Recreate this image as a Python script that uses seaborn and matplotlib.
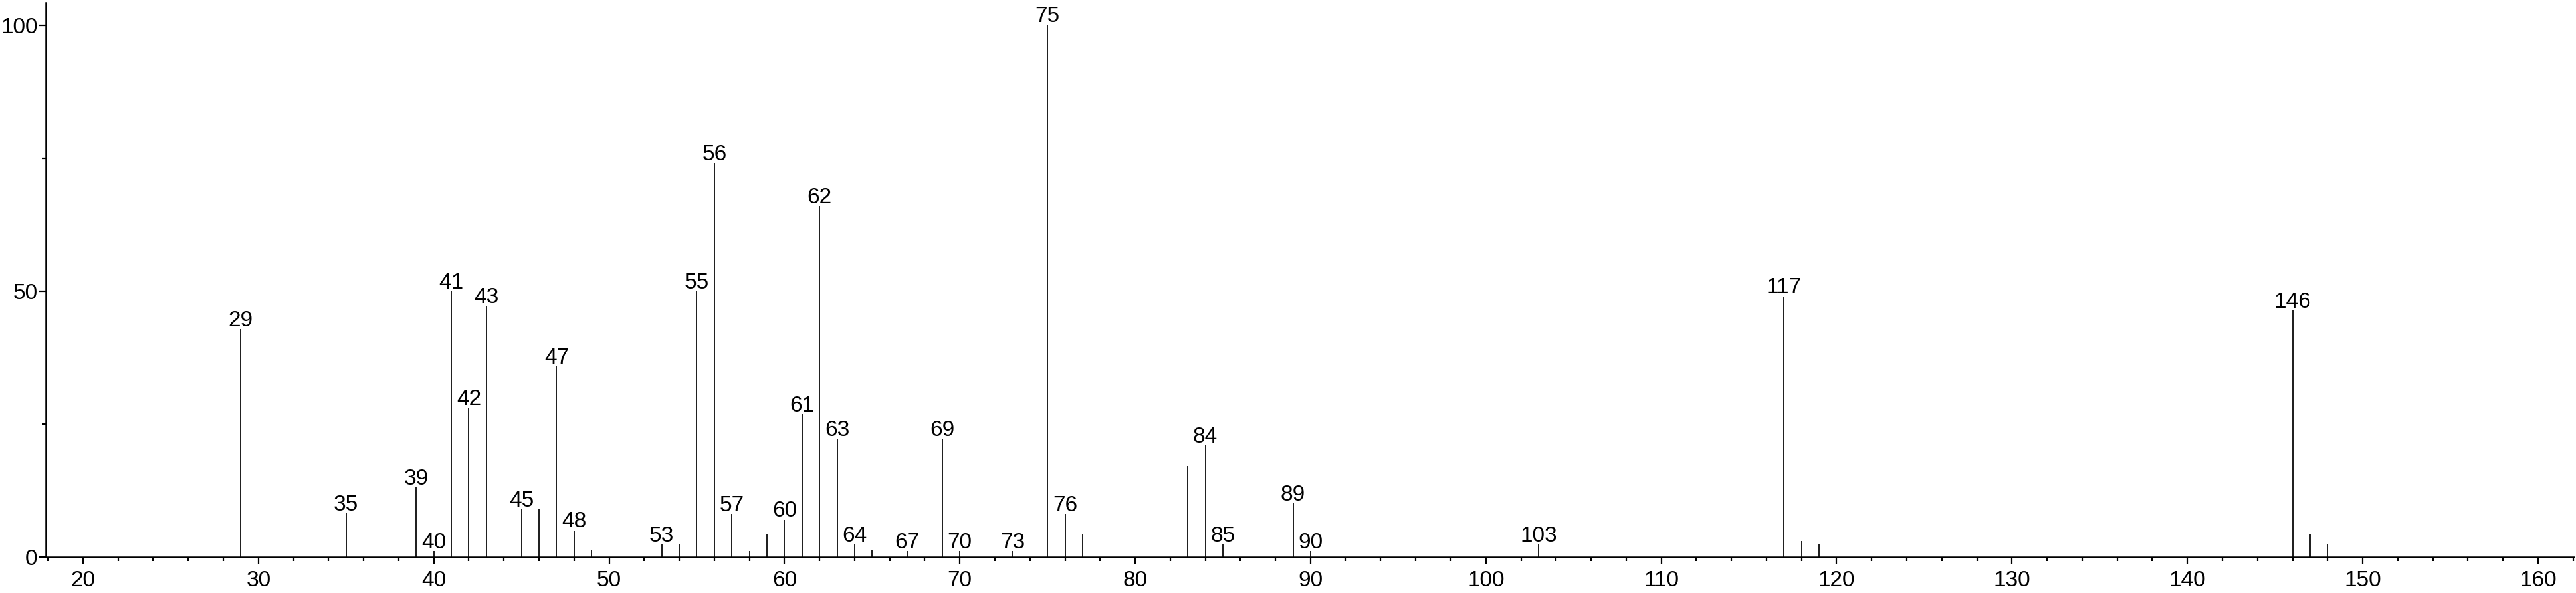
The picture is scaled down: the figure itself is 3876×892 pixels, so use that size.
import matplotlib
matplotlib.use("Agg")
import matplotlib.pyplot as plt
from matplotlib.ticker import MultipleLocator, FixedLocator
import seaborn as sns
import pandas as pd

# m/z values and relative intensities
mz = [29, 35, 39, 40, 41, 42, 43, 45, 46, 47, 48, 49, 53, 54, 55, 56, 57, 58,
      59, 60, 61, 62, 63, 64, 65, 67, 69, 70, 73, 75, 76, 77, 83, 84, 85, 89,
      90, 103, 117, 118, 119, 146, 147, 148]
intensity = [42.8, 8.2, 13.1, 1.1, 49.9, 28.1, 47.2, 8.9, 8.9, 35.8, 5.0, 1.2,
             2.3, 2.3, 49.9, 74.1, 8.1, 1.1, 4.3, 7.0, 26.8, 65.9, 22.2, 2.3,
             1.2, 1.1, 22.2, 1.1, 1.1, 100.0, 8.1, 4.3, 17.1, 20.9, 2.3, 10.1,
             1.1, 2.3, 49.0, 3.0, 2.3, 46.3, 4.3, 2.3]
labeled = [29, 35, 39, 40, 41, 42, 43, 45, 47, 48, 53, 55, 56, 57, 60, 61, 62,
           63, 64, 67, 69, 70, 73, 75, 76, 84, 85, 89, 90, 103, 117, 146]

x_major = list(range(20, 161, 10))
y_major = [0, 50, 100]
y_minor = [25, 75]

df = pd.DataFrame({"mz": mz, "intensity": intensity})

sns.set_theme(style="ticks")
plt.rcParams["font.family"] = ["Liberation Sans", "DejaVu Sans"]

fig = plt.figure(figsize=(38.76, 8.92), dpi=100)
ax = fig.add_axes([69 / 3876, 1 - 837.5 / 892, (3873 - 69) / 3876, (837.5 - 4) / 892])

ax.vlines(df["mz"], 0, df["intensity"], color="black", linewidth=1.25)

for m, v in zip(df["mz"], df["intensity"]):
    if m in labeled:
        ax.annotate(str(m), (m, v), xytext=(0, 3), textcoords="offset points",
                    ha="center", va="baseline", fontsize=24, color="black")

ax.set_xlim(17.88, 162.05)
ax.set_ylim(0, 104.2)
ax.xaxis.set_major_locator(FixedLocator(x_major))
ax.xaxis.set_minor_locator(MultipleLocator(2))
ax.yaxis.set_major_locator(FixedLocator(y_major))
ax.yaxis.set_minor_locator(FixedLocator(y_minor))

sns.despine(ax=ax)
for s in ("left", "bottom"):
    ax.spines[s].set_linewidth(1.8)
    ax.spines[s].set_color("black")

ax.tick_params(axis="both", which="major", direction="out", length=8, width=1.6,
               color="black", labelsize=24, labelcolor="black")
ax.tick_params(axis="both", which="minor", direction="out", length=4.3, width=1.6,
               color="black")
ax.tick_params(axis="x", which="major", pad=7)
ax.tick_params(axis="y", which="major", pad=1)
ax.set_xlabel("")
ax.set_ylabel("")
ax.grid(False)
ax.set_facecolor("white")
fig.patch.set_facecolor("white")

fig.savefig("out.png", dpi=100, facecolor="white")
